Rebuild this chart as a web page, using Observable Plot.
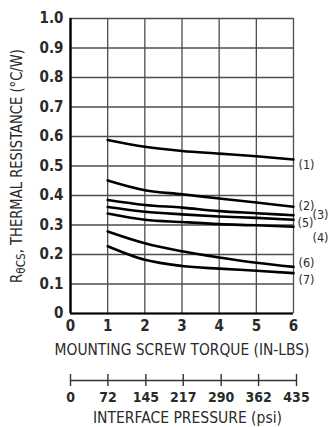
<!DOCTYPE html>
<html>
<head>
<meta charset="utf-8">
<script src="https://cdn.jsdelivr.net/npm/d3@7"></script>
<script src="https://cdn.jsdelivr.net/npm/@observablehq/plot@0.6"></script>
<style>
  html, body { margin: 0; padding: 0; background: #fff; }
  #chart { position: relative; width: 330px; height: 427px; overflow: hidden; }
  #chart svg { position: absolute; left: 0; }
</style>
</head>
<body>
<div id="chart"></div>
<script>
// ---- data ----
const torque = [1, 2, 3, 4, 5, 6];
const seriesNames = ["(1)", "(2)", "(3)", "(5)", "(4)", "(6)", "(7)"];
const s1 = [0.588, 0.565, 0.551, 0.542, 0.533, 0.522];
const s2 = [0.451, 0.418, 0.404, 0.390, 0.376, 0.362];
const s3 = [0.385, 0.368, 0.359, 0.347, 0.340, 0.333];
const s5 = [0.361, 0.345, 0.336, 0.329, 0.324, 0.318];
const s4 = [0.339, 0.318, 0.310, 0.303, 0.299, 0.294];
const s6 = [0.278, 0.238, 0.211, 0.190, 0.172, 0.158];
const s7 = [0.228, 0.182, 0.161, 0.152, 0.145, 0.137];
const torqueTicks = [0, 1, 2, 3, 4, 5, 6];
const resistanceTicks = [0, 0.1, 0.2, 0.3, 0.4, 0.5, 0.6, 0.7, 0.8, 0.9, 1.0];
const pressureTicks = [0, 72, 145, 217, 290, 362, 435];
const yTitle = "RθCS, THERMAL RESISTANCE (°C/W)";
const xTitle = "MOUNTING SCREW TORQUE (IN-LBS)";
const pTitle = "INTERFACE PRESSURE (psi)";

const allSeries = [s1, s2, s3, s5, s4, s6, s7];
const rows = [];
allSeries.forEach((vals, i) => vals.forEach((v, j) => rows.push({series: seriesNames[i], x: torque[j], y: v})));
const ends = allSeries.map((vals, i) => ({series: seriesNames[i], x: torque[torque.length - 1], y: vals[vals.length - 1]}));

// label styling offsets (px)
const labelDx = {"(1)": 5, "(2)": 5, "(3)": 19, "(5)": 4, "(4)": 19, "(6)": 5, "(7)": 5};
const labelDy = {"(1)": 5, "(2)": -1, "(3)": 0, "(5)": 3, "(4)": 11, "(6)": -4, "(7)": 7};

const FONT = "'DejaVu Sans Condensed', 'Liberation Sans', sans-serif";
const INK = "#2a2a2a";
const GRID = "#4d4d4d";

const main = Plot.plot({
  width: 330, height: 360,
  marginLeft: 70, marginRight: 37, marginTop: 18, marginBottom: 47,
  style: {fontFamily: FONT, background: "transparent", overflow: "visible"},
  x: {domain: [0, 6], ticks: torqueTicks},
  y: {domain: [0, 1], ticks: resistanceTicks},
  marks: [
    Plot.gridX(torqueTicks, {stroke: GRID, strokeOpacity: 1, strokeWidth: 1.3}),
    Plot.gridY(resistanceTicks, {stroke: GRID, strokeOpacity: 1, strokeWidth: 1.3}),
    Plot.ruleX([0], {stroke: "#000", strokeWidth: 2.4}),
    Plot.ruleY([0], {stroke: "#000", strokeWidth: 2.2}),
    Plot.axisX(torqueTicks, {tickSize: 0, tickPadding: 7, fontSize: 15, fontWeight: "bold", fill: INK, label: null}),
    Plot.axisY(resistanceTicks, {tickSize: 0, tickPadding: 7, fontSize: 15, fontWeight: "bold", fill: INK, label: null,
      tickFormat: d => d === 0 ? "0" : d.toFixed(1)}),
    Plot.line(rows, {x: "x", y: "y", z: "series", stroke: "#000", strokeWidth: 2.6, curve: "monotone-x"}),
    Plot.text(ends, {x: "x", y: "y", text: "series", textAnchor: "start", fontSize: 12.5, fill: INK}),
    Plot.text([xTitle], {frameAnchor: "bottom", textAnchor: "middle", lineAnchor: "middle", dy: 37, fontSize: 15, fill: INK}),
    Plot.text([yTitle], {frameAnchor: "left", textAnchor: "middle", lineAnchor: "middle", rotate: -90, dx: -53, fontSize: 15, fill: INK})
  ]
});
main.style.top = "0px";

const press = Plot.plot({
  width: 330, height: 67,
  marginLeft: 70, marginRight: 34, marginTop: 14, marginBottom: 41,
  style: {fontFamily: FONT, background: "transparent", overflow: "visible"},
  x: {domain: [0, 435]},
  y: {domain: [0, 1], axis: null},
  marks: [
    Plot.ruleY([0.5], {stroke: "#333", strokeWidth: 1.4}),
    Plot.ruleX(pressureTicks, {stroke: "#333", strokeWidth: 1.4}),
    Plot.axisX(pressureTicks, {tickSize: 0, tickPadding: 6, fontSize: 14, fontWeight: "bold", fill: INK, label: null}),
    Plot.text([pTitle], {frameAnchor: "bottom", textAnchor: "middle", lineAnchor: "middle", dx: 4, dy: 32, fontSize: 15, fill: INK})
  ]
});
press.style.top = "360px";

document.getElementById("chart").append(main, press);

// fit a text element along its own direction to a target length
function fitText(t, target) {
  const len = t.getComputedTextLength();
  if (len > 0) {
    const k = target / len;
    t.setAttribute("transform", (t.getAttribute("transform") || "") + ` scale(${k},1)`);
  }
}

main.querySelectorAll("text").forEach(t => {
  const s = t.textContent;
  if (labelDx[s] !== undefined) {
    t.setAttribute("transform", (t.getAttribute("transform") || "") + ` translate(${labelDx[s]},${labelDy[s]})`);
  }
  if (s === xTitle) fitText(t, 255);
  if (s === yTitle) {
    t.textContent = "";
    const ns = "http://www.w3.org/2000/svg";
    const a = document.createElementNS(ns, "tspan"); a.textContent = "R";
    const b = document.createElementNS(ns, "tspan"); b.textContent = "θCS"; b.setAttribute("font-size", "12"); b.setAttribute("dy", "3");
    const c = document.createElementNS(ns, "tspan"); c.textContent = ", THERMAL RESISTANCE (°C/W)"; c.setAttribute("dy", "-3");
    t.append(a, b, c);
    fitText(t, 234);
  }
});
press.querySelectorAll("text").forEach(t => {
  if (t.textContent === pTitle) fitText(t, 189);
});
</script>
</body>
</html>
